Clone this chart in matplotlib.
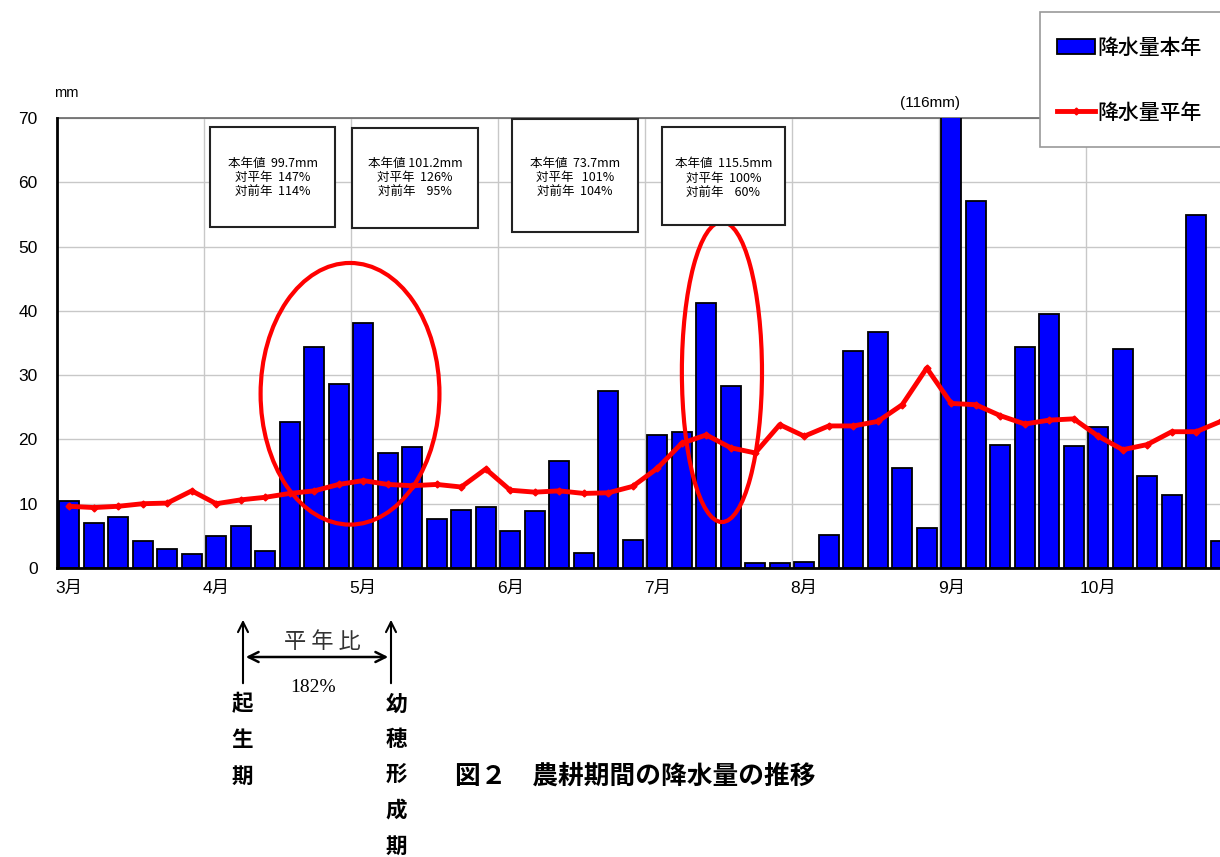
import matplotlib
matplotlib.use("Agg")
import matplotlib.pyplot as plt
from matplotlib.patches import Ellipse, Rectangle
import numpy as np

plt.rcParams["font.family"] = ["Liberation Sans", "Noto Sans CJK JP"]

# 半旬ごとの降水量 (3月第1半旬 〜 10月第6半旬)
months = ["3月", "4月", "5月", "6月", "7月", "8月", "9月", "10月"]
rain_this_year = [
    10.5, 7.0, 7.9, 4.2, 3.0, 2.2,
    5.0, 6.5, 2.6, 22.7, 34.4, 28.6,
    38.1, 17.9, 18.8, 7.6, 9.0, 9.5,
    5.8, 8.9, 16.6, 2.3, 27.5, 4.3,
    20.7, 21.1, 41.2, 28.3, 0.8, 0.8,
    0.9, 5.2, 33.8, 36.7, 15.6, 6.2,
    116.0, 57.1, 19.1, 34.4, 39.5, 19.0,
    21.9, 34.1, 14.3, 11.4, 54.9, 4.2,
]
rain_normal = [
    9.6, 9.4, 9.6, 10.0, 10.1, 12.0,
    10.0, 10.6, 11.0, 11.6, 12.0, 13.0,
    13.6, 13.0, 12.8, 13.0, 12.6, 15.4,
    12.1, 11.8, 12.0, 11.6, 11.7, 12.7,
    15.5, 19.4, 20.7, 18.7, 17.9, 22.3,
    20.5, 22.1, 22.1, 22.8, 25.4, 31.1,
    25.6, 25.4, 23.7, 22.4, 23.0, 23.2,
    20.5, 18.4, 19.2, 21.2, 21.2, 22.8,
]

# 各期間の集計ボックス
box_texts = [
    "本年値  99.7mm\n対平年  147%\n対前年  114%",
    "本年値 101.2mm\n対平年  126%\n対前年    95%",
    "本年値  73.7mm\n対平年   101%\n対前年  104%",
    "本年値  115.5mm\n対平年  100%\n対前年    60%",
]

W, H = 1220, 857
fig = plt.figure(figsize=(W / 100, H / 100), dpi=100)
ax = fig.add_axes([57 / W, 1 - 568 / H, 1 - 57 / W, (568 - 118) / H])

x = np.arange(len(rain_this_year))
bars = ax.bar(x, rain_this_year, width=0.8, color="#0000ff",
              edgecolor="black", linewidth=1.3, zorder=3, label="降水量本年")
line, = ax.plot(x, rain_normal, color="#ff0000", linewidth=3.5, marker="D",
                markersize=3.5, zorder=4, label="降水量平年")

ax.set_xlim(-0.5, (W - 57) / 24.5 - 0.5)
ax.set_ylim(0, 70)
ax.set_yticks(range(0, 71, 10))
ax.set_xticks(np.arange(len(months)) * 6)
ax.set_xticklabels(months)
ax.set_xticks(np.arange(len(months)) * 6 - 0.5, minor=True)
ax.tick_params(axis="x", which="both", length=0, pad=9, labelsize=12.5)
ax.tick_params(axis="y", length=0, pad=14, labelsize=12.5)
ax.grid(axis="y", color="#c8c8c8", linewidth=1, zorder=0)
ax.grid(axis="x", which="minor", color="#c8c8c8", linewidth=1, zorder=0)
ax.set_axisbelow(True)
for s in ("left", "bottom"):
    ax.spines[s].set_linewidth(2)
    ax.spines[s].set_color("black")
    ax.spines[s].set_zorder(5)
ax.spines["right"].set_visible(False)
ax.spines["top"].set_color("#666666")
ax.spines["top"].set_linewidth(1.2)

fig.text(66 / W, 1 - 93 / H, "mm", ha="center", va="center", fontsize=10.5)
ax.text(35.15, 72.4, "(116mm)", ha="center", va="center", fontsize=11,
        clip_on=False)

# 集計ボックス (x0, y0, x1, y1 は画素位置)
box_pos = [(210, 127, 335, 227), (352, 128, 478, 228),
           (512, 119, 638, 232), (662, 127, 785, 225)]
text_y = [177, 177, 177, 178]
for (x0, y0, x1, y1), txt, ty in zip(box_pos, box_texts, text_y):
    fig.patches.append(Rectangle((x0 / W, 1 - y1 / H), (x1 - x0) / W,
                                 (y1 - y0) / H, transform=fig.transFigure,
                                 facecolor="white", edgecolor="#222222",
                                 linewidth=1.5, zorder=6))
    fig.text((x0 + x1) / 2 / W, 1 - ty / H, txt, ha="center", va="center",
             fontsize=9, linespacing=1.1, zorder=7,
             family=["Noto Sans CJK JP"])

# 強調の楕円
for cx, cy, w, h in [(11.46, 27.1, 7.3, 40.7), (26.64, 30.5, 3.27, 46.7)]:
    ax.add_patch(Ellipse((cx, cy), w, h, fill=False, edgecolor="#ff0000",
                         linewidth=3, zorder=6))

# 凡例 (枠は右端の外まで伸ばす)
ax.add_patch(Rectangle((1040 / W, 1 - 147 / H), 200 / W, 135 / H,
                       transform=fig.transFigure, facecolor="white",
                       edgecolor="#999999", linewidth=1.2, zorder=9,
                       clip_on=False))
leg = ax.legend(handles=[bars, line], loc="upper left",
                bbox_to_anchor=(1057 / W, 1 - 37 / H),
                bbox_transform=fig.transFigure, fontsize=15, frameon=False,
                borderpad=0, labelspacing=2.05, handlelength=1.8,
                handletextpad=0.15, borderaxespad=0)
leg.set_zorder(10)
for t in leg.get_texts():
    t.set_family(["Noto Sans CJK JP"])
    t.set_fontweight("medium")

# 下部の注記 (画素位置)
def fp(px, py):
    return (px, H - py)

arrow_kw = dict(arrowstyle="->", color="black", lw=1.5, mutation_scale=18)
for px in (243, 391):
    ax.annotate("", xy=fp(px, 617), xytext=fp(px, 686),
                xycoords="figure pixels", textcoords="figure pixels",
                arrowprops=arrow_kw)
ax.annotate("", xy=fp(391, 657), xytext=fp(243, 657),
            xycoords="figure pixels", textcoords="figure pixels",
            arrowprops=dict(arrowstyle="<->", color="black", lw=1.8,
                            mutation_scale=18))
ax.annotate("平 年 比", xy=fp(322, 642), xycoords="figure pixels",
            ha="center", va="center", fontsize=16, color="#333333",
            family=["Noto Sans CJK JP"])
ax.annotate("182%", xy=fp(313, 688), xycoords="figure pixels",
            ha="center", va="center", fontsize=14,
            family=["Liberation Serif"])

for i, ch in enumerate("起生期"):
    ax.annotate(ch, xy=fp(242, 704 + 36 * i), xycoords="figure pixels",
                ha="center", va="center", fontsize=15.5, fontweight="bold",
                family=["Noto Sans CJK JP"])
for i, ch in enumerate("幼穂形成期"):
    ax.annotate(ch, xy=fp(396, 704 + 35.5 * i), xycoords="figure pixels",
                ha="center", va="center", fontsize=15.5, fontweight="bold",
                family=["Noto Sans CJK JP"])

fig.text(455 / W, 1 - 776 / H, "図２　農耕期間の降水量の推移", ha="left",
         va="center", fontsize=18.5, fontweight="bold",
         family=["Noto Sans CJK JP"])

fig.savefig("out.png", dpi=100)
